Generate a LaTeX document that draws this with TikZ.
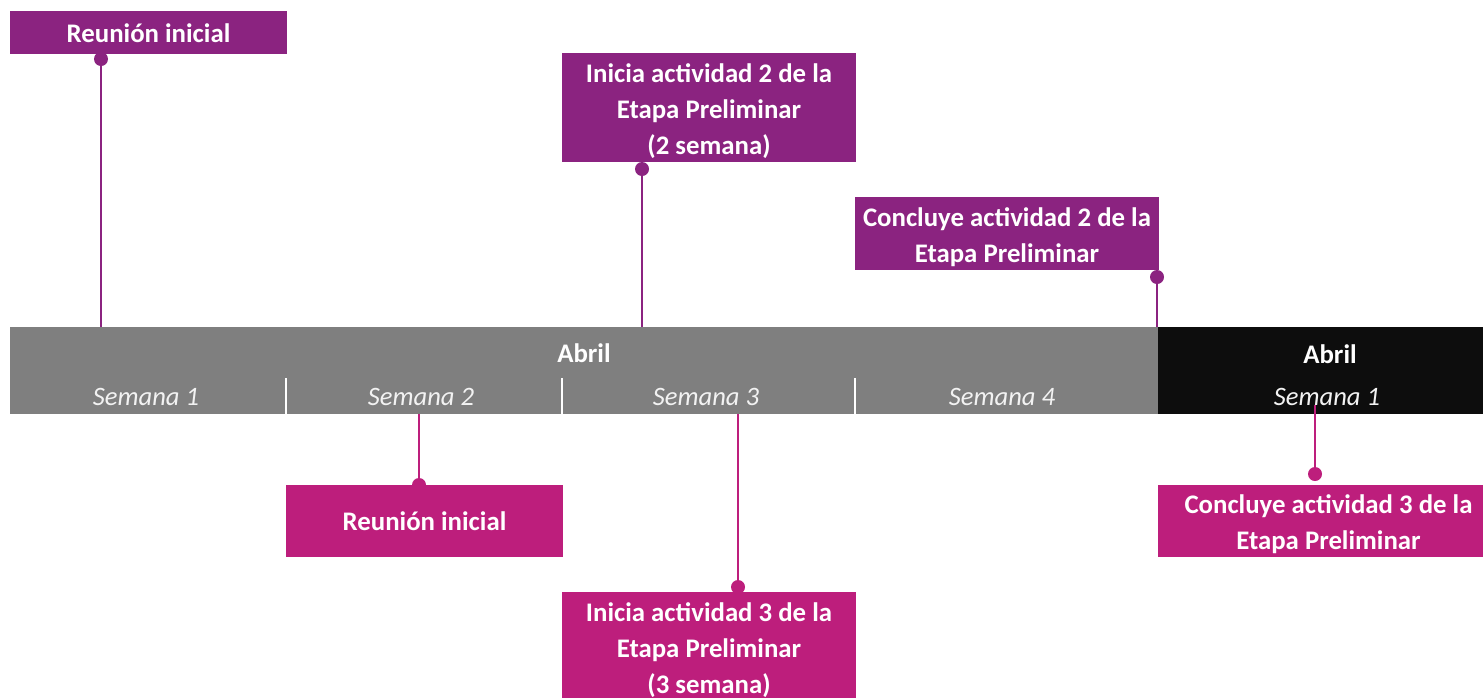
\documentclass[tikz,border=0pt]{standalone}
\usepackage{fontspec}
\setmainfont{Carlito}
\definecolor{purp}{HTML}{8B2380}
\definecolor{mag}{HTML}{BD1E7C}
\definecolor{bargray}{HTML}{7F7F7F}
\definecolor{barblack}{HTML}{0D0D0D}
\definecolor{weektxt}{HTML}{F2F2F2}
\begin{document}
\begin{tikzpicture}[x=0.5pt,y=-0.5pt,
  box/.style={rectangle, inner sep=0pt, outer sep=0pt},
  boxtxt/.style={inner sep=0pt, text=white, align=center,
    font=\fontsize{13.4}{18}\selectfont\bfseries},
  topbox/.style={box, fill=purp},
  botbox/.style={box, fill=mag},
  barseg/.style={rectangle, inner sep=0pt, outer sep=0pt, minimum height=43.5pt},
  month/.style={text=white, inner sep=0pt, font=\fontsize{13.4}{16}\selectfont\bfseries},
  week/.style={text=weektxt, inner sep=0pt, font=\fontsize{13.3}{16}\selectfont\itshape},
  sep/.style={draw=white, line width=1pt},
  topcon/.style={draw=purp, line width=0.75pt},
  botcon/.style={draw=mag, line width=0.75pt},
  topdot/.style={fill=purp},
  botdot/.style={fill=mag}]
\useasboundingbox (0,0) rectangle (1483,697);

% bar
\node[barseg, fill=bargray, minimum width=574pt] (bar) at (584,370.5) {};
\node[barseg, fill=barblack, minimum width=162.5pt] (barb) at (1320.5,370.5) {};
\node[month] (m1) at (584,353) {Abril};
\node[month] (m2) at (1330,354) {Abril};
\node[week] (w1) at (146,397) {Semana 1};
\node[week] (w2) at (421,397) {Semana 2};
\node[week] (w3) at (706,397) {Semana 3};
\node[week] (w4) at (1002,397) {Semana 4};
\node[week] (w5) at (1327,397) {Semana 1};
\coordinate (s1) at (286,378);
\coordinate (s2) at (562,378);
\coordinate (s3) at (855,378);
\draw[sep] (s1) -- (s1 |- bar.south);
\draw[sep] (s2) -- (s2 |- bar.south);
\draw[sep] (s3) -- (s3 |- bar.south);

% dots
\coordinate (d1) at (101,59);
\coordinate (d2) at (642,169);
\coordinate (d3) at (1157,277);
\coordinate (d4) at (419,485);
\coordinate (d5) at (738,587);
\coordinate (d6) at (1315,474);
\coordinate (e6) at (1315,405);

\draw[topcon] (d1) -- (d1 |- bar.north);
\draw[topcon] (d2) -- (d2 |- bar.north);
\draw[topcon] (d3) -- (d3 |- bar.north);
\draw[botcon] (d4 |- bar.south) -- (d4);
\draw[botcon] (d5 |- bar.south) -- (d5);
\draw[botcon] (e6) -- (d6);

\fill[topdot] (d1) circle (3.5pt);
\fill[topdot] (d2) circle (3.5pt);
\fill[topdot] (d3) circle (3.5pt);
\fill[botdot] (d4) circle (3.5pt);
\fill[botdot] (d5) circle (3.5pt);
\fill[botdot] (d6) circle (3.5pt);

% boxes
\node[topbox, minimum width=138.5pt, minimum height=21.5pt] (t1) at (148.5,32.5) {};
\node[topbox, minimum width=147pt, minimum height=54.5pt] (t2) at (709,107.5) {};
\node[topbox, minimum width=152pt, minimum height=36.5pt] (t3) at (1007,233.5) {};
\node[botbox, minimum width=138.5pt, minimum height=36pt] (b1) at (424.5,521) {};
\node[botbox, minimum width=147pt, minimum height=55pt] (b2) at (709,647) {};
\node[botbox, minimum width=162.5pt, minimum height=36pt] (b3) at (1320.5,521) {};

\node[boxtxt] (t1t) at ([yshift=-0.5pt]t1.center) {Reunión inicial};
\node[boxtxt] (t2t) at ([yshift=-1.75pt]t2.center) {Inicia actividad 2 de la\\Etapa Preliminar\\(2 semana)};
\node[boxtxt] (t3t) at ([yshift=-1.75pt]t3.center) {Concluye actividad 2 de la\\Etapa Preliminar};
\node[boxtxt] (b1t) at (b1.center) {Reunión inicial};
\node[boxtxt] (b2t) at ([yshift=-1.75pt]b2.center) {Inicia actividad 3 de la\\Etapa Preliminar\\(3 semana)};
\node[boxtxt] (b3t) at ([xshift=4pt,yshift=-1.75pt]b3.center) {Concluye actividad 3 de la\\Etapa Preliminar};
\end{tikzpicture}
\end{document}
